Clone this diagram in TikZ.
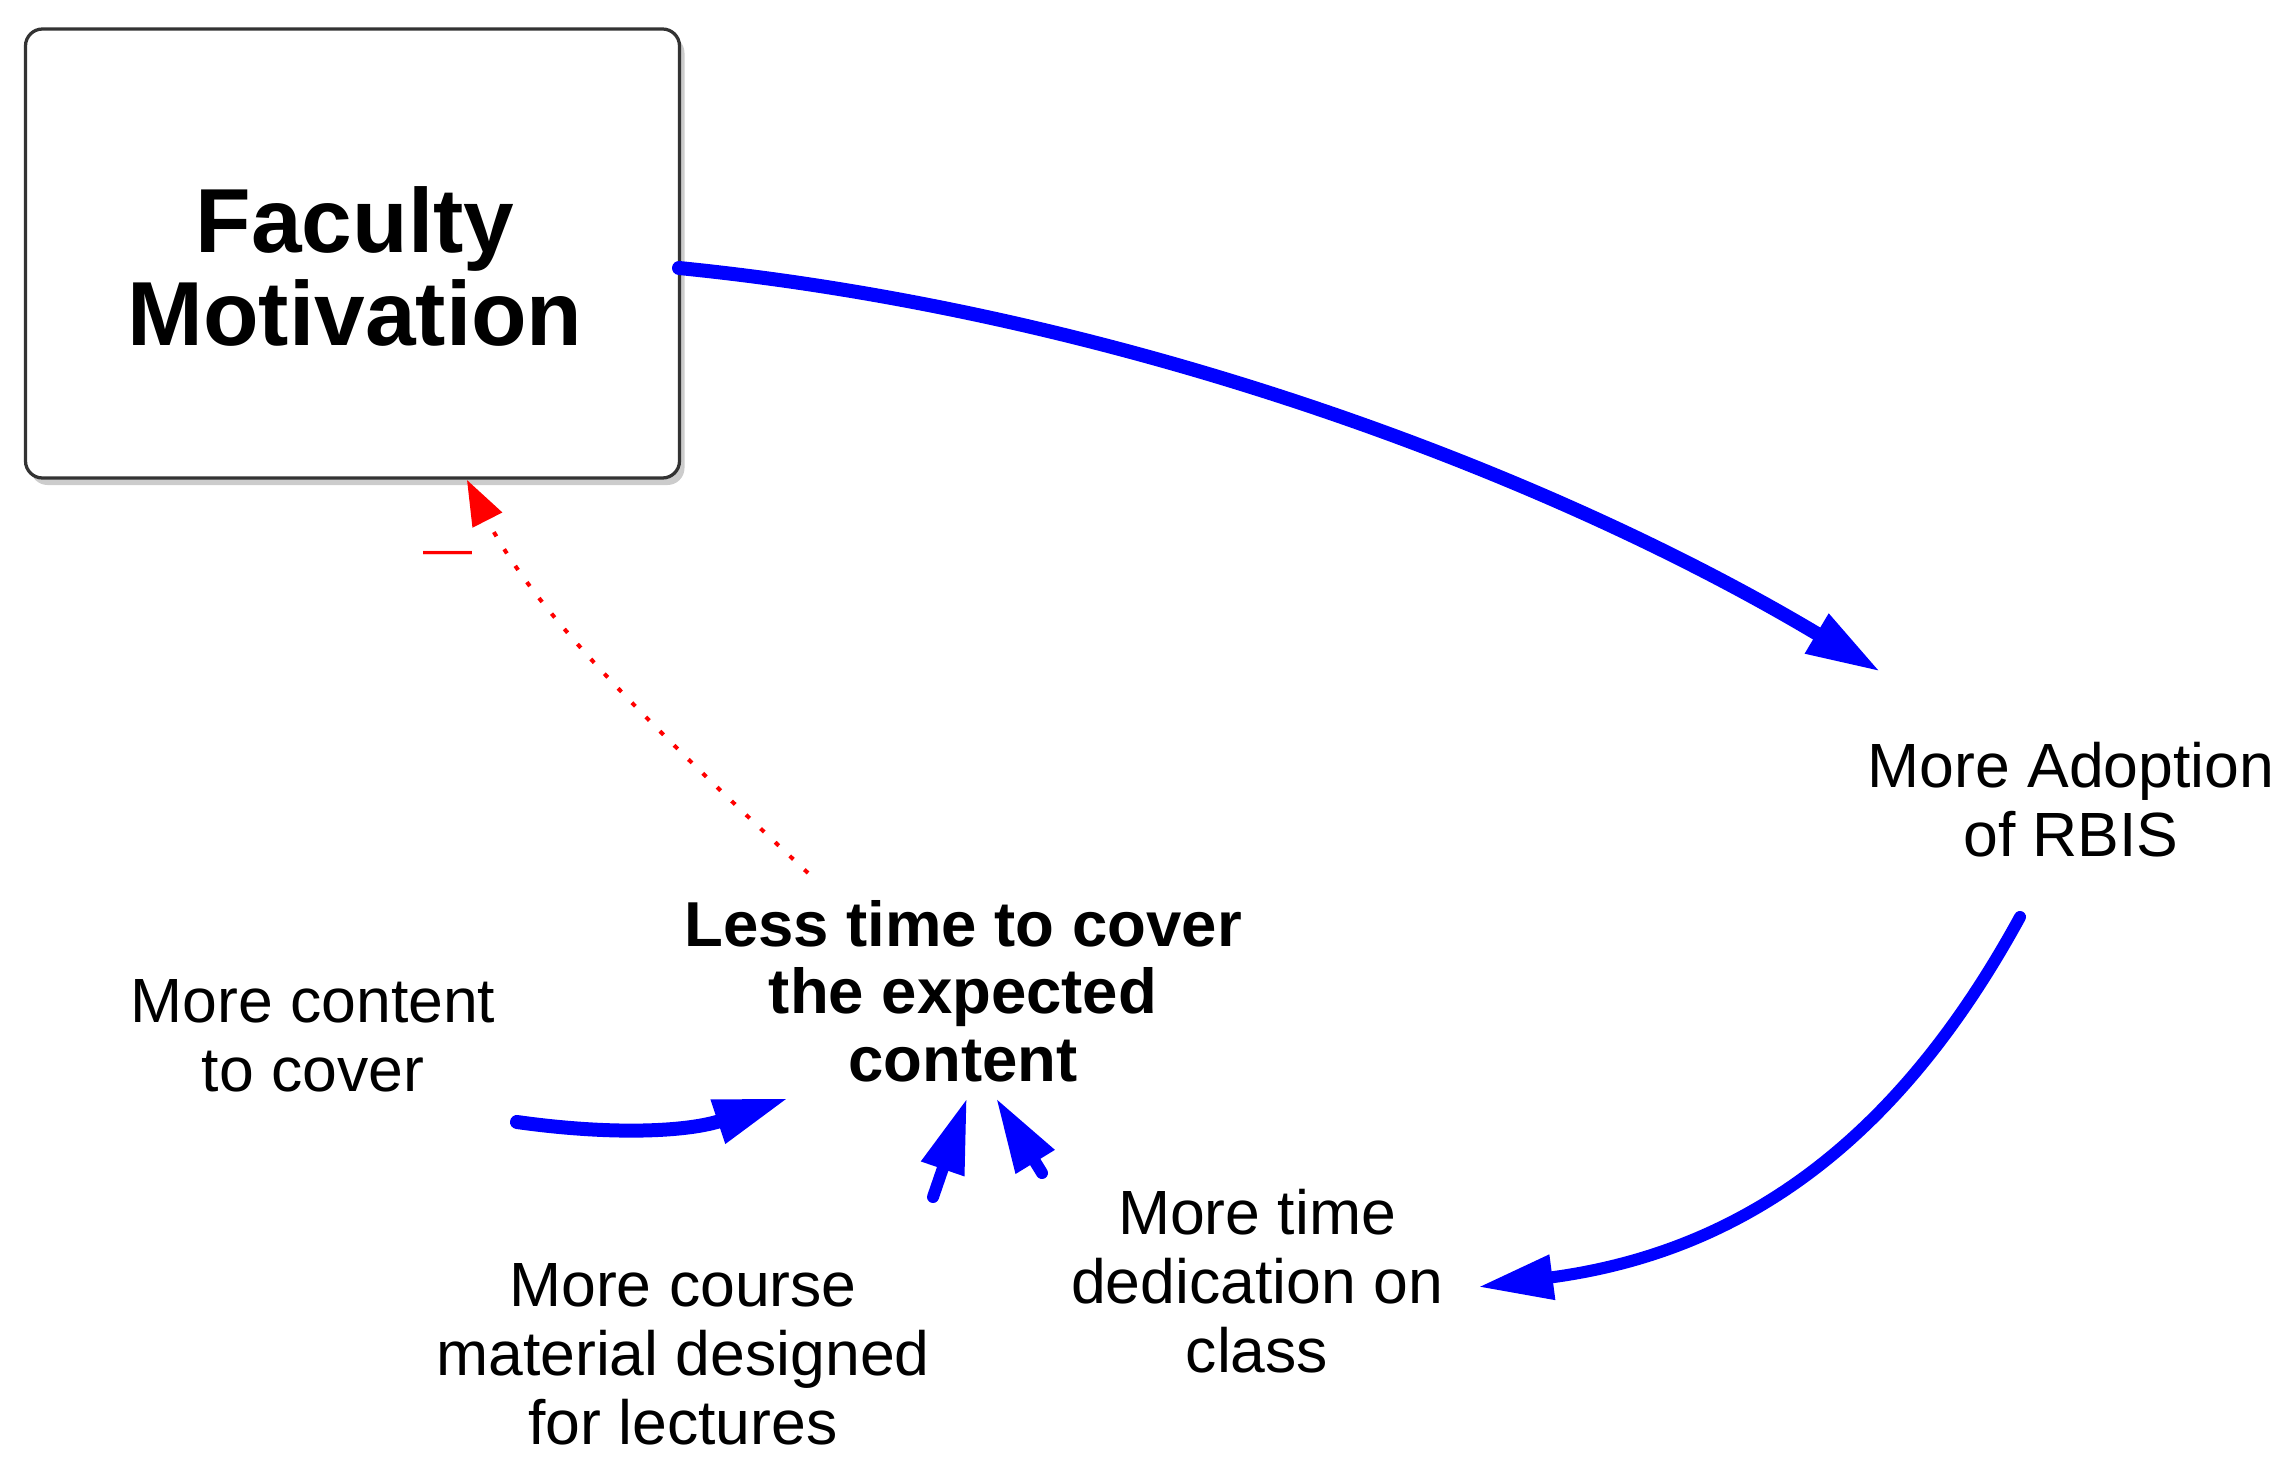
\documentclass[tikz,border=0pt]{standalone}
\usepackage{fontspec}
\setmainfont{Liberation Sans}
\usetikzlibrary{arrows.meta,shadows}
\begin{document}
\begin{tikzpicture}[x=0.4pt,y=-0.4pt,
  causal/.style={draw=blue, line cap=round, -{Triangle[length=30pt,width=17pt]}},
  negcausal/.style={draw=red, line width=1.6pt, dash pattern=on 2pt off 6pt, -{Triangle[length=18pt,width=13pt]}},
  varlabel/.style={align=center, inner sep=0pt, anchor=base, font=\fontsize{25}{27.6}\selectfont},
  boldlabel/.style={align=center, inner sep=0pt, anchor=base, font=\fontsize{25.4}{27}\selectfont\bfseries},
  stockbox/.style={draw=black!80, line width=1.3pt, rounded corners=6.8pt, minimum width=261.6pt, minimum height=179.6pt, inner sep=0pt, fill=white,
    drop shadow={shadow xshift=2pt, shadow yshift=-2.8pt, fill=black!20, opacity=1}},
  stocktext/.style={align=center, inner sep=0pt, anchor=base, font=\fontsize{36.4}{36.8}\selectfont\bfseries},
  polarity/.style={inner sep=0pt, anchor=base, text=red, font=\fontsize{19.6}{20}\selectfont}
]
\useasboundingbox (0,0) rectangle (2290,1478);

% nodes (anchor=base sits on the last line's baseline)
\node[stockbox] (fm) at (352.5,253.5) {};
\node[stocktext] (fmt) at (355,345) {Faculty\\Motivation};
\node[varlabel] (adopt) at (2071,856) {More Adoption\\of RBIS};
\node[boldlabel] (less) at (963,1081) {Less time to cover\\the expected\\content};
\node[varlabel] (content) at (313,1091) {More content\\to cover};
\node[varlabel] (course) at (683,1444) {More course\\material designed\\for lectures};
\node[varlabel] (dedic) at (1257,1372) {More time\\dedication on\\class};
\node[polarity] (pol) at (447.5,565.5) {—};

% connector end points
\coordinate (a1s) at (679,268);
\coordinate (a1e) at (1881,672);
\coordinate (a2s) at (2020,917);
\coordinate (a2e) at (1478,1287);
\coordinate (a3s) at (517,1122);
\coordinate (a3e) at (789,1098);
\coordinate (a4s) at (933,1197);
\coordinate (a4e) at (967,1098);
\coordinate (a5s) at (1042,1173);
\coordinate (a5e) at (996,1098);
\coordinate (rs) at (808,873);
\coordinate (re) at (467,480);

% connectors
\draw[causal, line width=5.6pt] (a1s) .. controls (1129,313) and (1555,477) .. (a1e);
\draw[causal, line width=4.8pt] (a2s) .. controls (1905,1127.5) and (1755,1250.6) .. (a2e);
\draw[causal, line width=5.6pt] (a3s) .. controls (617,1136) and (690,1131) .. (a3e);
\draw[causal, line width=4.8pt] (a4s) -- (a4e);
\draw[causal, line width=4.8pt] (a5s) -- (a5e);
\draw[negcausal] (rs) .. controls (659,734) and (535,613.5) .. (re);
\end{tikzpicture}
\end{document}
